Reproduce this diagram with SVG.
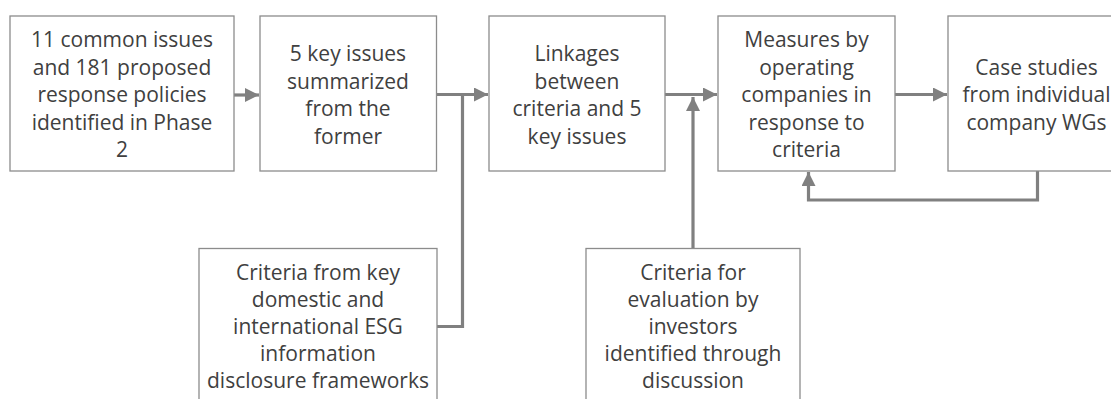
<svg xmlns="http://www.w3.org/2000/svg" width="1111" height="399" viewBox="0 0 1111 399">
<style>
.box{fill:#ffffff;stroke:#8c8c8c;stroke-width:1.3}
.t{font-family:"Open Sans","Noto Sans","Liberation Sans",sans-serif;font-size:21px;fill:#404040;text-anchor:middle}
.c{fill:none;stroke:#808080;stroke-width:3.2}
</style>
<defs>
<marker id="ah" markerUnits="userSpaceOnUse" markerWidth="14" markerHeight="14" viewBox="0 0 12 12" refX="12" refY="6" orient="auto">
<path d="M0,0 L12,6 L0,12 Z" fill="#808080"/>
</marker>
</defs>
<rect width="1111" height="399" fill="#ffffff"/>
<g id="connectors">
<path class="c" d="M234,95 H259" marker-end="url(#ah)"/>
<path class="c" d="M437,94.5 H488" marker-end="url(#ah)"/>
<path class="c" d="M437,326.5 H462.5 V94.5"/>
<path class="c" d="M665,94.5 H717" marker-end="url(#ah)"/>
<path class="c" d="M693,248 V97" marker-end="url(#ah)"/>
<path class="c" d="M895,94.5 H947" marker-end="url(#ah)"/>
<path class="c" d="M1037.5,171 V200 H808.5 V172" marker-end="url(#ah)"/>
</g>
<g id="n1">
<rect class="box" x="10" y="16" width="224" height="155"/>
<text class="t"><tspan x="122" y="47">11 common issues</tspan><tspan x="122" y="74.5">and 181 proposed</tspan><tspan x="122" y="102">response policies</tspan><tspan x="122" y="129.5">identified in Phase</tspan><tspan x="122" y="157">2</tspan></text>
</g>
<g id="n2">
<rect class="box" x="260" y="16" width="176.5" height="155"/>
<text class="t"><tspan x="348" y="61">5 key issues</tspan><tspan x="348" y="88.5">summarized</tspan><tspan x="348" y="116">from the</tspan><tspan x="348" y="143.5">former</tspan></text>
</g>
<g id="n3">
<rect class="box" x="489" y="16" width="176" height="155"/>
<text class="t"><tspan x="577" y="61">Linkages</tspan><tspan x="577" y="88.5">between</tspan><tspan x="577" y="116">criteria and 5</tspan><tspan x="577" y="143.5">key issues</tspan></text>
</g>
<g id="n4">
<rect class="box" x="718" y="16" width="177" height="155"/>
<text class="t"><tspan x="806.5" y="47">Measures by</tspan><tspan x="806.5" y="74.5">operating</tspan><tspan x="806.5" y="102">companies in</tspan><tspan x="806.5" y="129.5">response to</tspan><tspan x="806.5" y="157">criteria</tspan></text>
</g>
<g id="n5">
<rect class="box" x="948" y="16" width="177" height="155"/>
<text class="t"><tspan x="1036.5" y="74.5">Case studies</tspan><tspan x="1036.5" y="102">from individual</tspan><tspan x="1036.5" y="129.5">company WGs</tspan></text>
</g>
<g id="n6">
<rect class="box" x="199" y="248.5" width="238" height="170"/>
<text class="t"><tspan x="318" y="280">Criteria from key</tspan><tspan x="318" y="307">domestic and</tspan><tspan x="318" y="334">international ESG</tspan><tspan x="318" y="361">information</tspan><tspan x="318" y="388">disclosure frameworks</tspan></text>
</g>
<g id="n7">
<rect class="box" x="586" y="248.5" width="214" height="170"/>
<text class="t"><tspan x="693" y="280">Criteria for</tspan><tspan x="693" y="307">evaluation by</tspan><tspan x="693" y="334">investors</tspan><tspan x="693" y="361">identified through</tspan><tspan x="693" y="388">discussion</tspan></text>
</g>
</svg>
